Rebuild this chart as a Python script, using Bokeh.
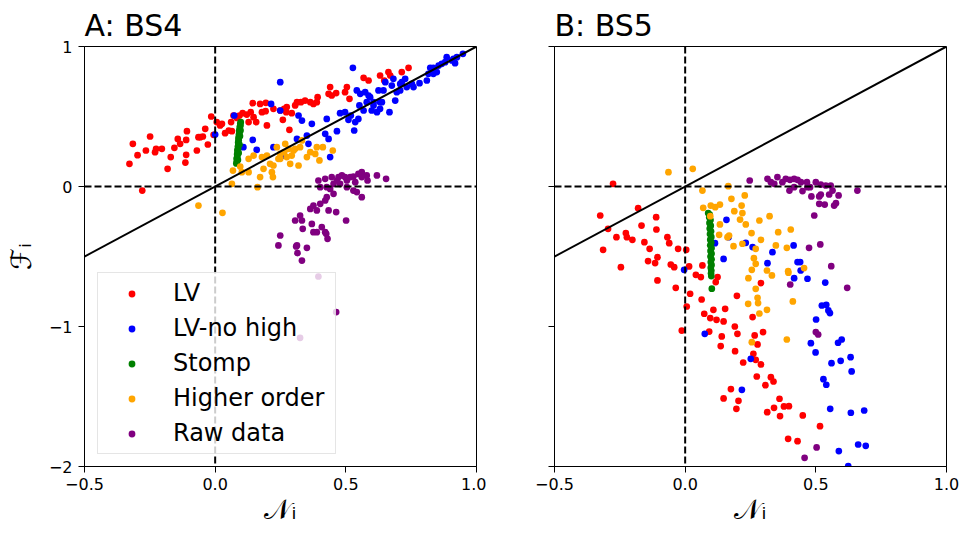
from bokeh.plotting import figure
from bokeh.models import Range1d, FixedTicker, Span, Slope, Legend, LegendItem
from bokeh.layouts import row
from bokeh.embed import file_html
from bokeh.resources import INLINE

# ---------------- data (N_i, F_i) ----------------
X_TICKS = [-0.5, 0.0, 0.5, 1.0]
X_TICK_LABELS = ["\u22120.5", "0.0", "0.5", "1.0"]
Y_TICKS = [-2, -1, 0, 1]
Y_TICK_LABELS = ["\u22122", "\u22121", "0", "1"]
X_LIM = (-0.5, 1.0)
Y_LIM = (-2.0, 1.0)

SERIES = ["LV", "LV-no high", "Stomp", "Higher order", "Raw data"]
COLORS = ["red", "blue", "green", "orange", "purple"]

A_LV = [(-0.328, 0.162), (-0.315, 0.305), (-0.297, 0.224), (-0.265, 0.257), (-0.249, 0.357),
        (-0.230, 0.245), (-0.226, 0.269), (-0.204, 0.269), (-0.182, 0.126), (-0.170, 0.210),
        (-0.156, 0.276), (-0.143, 0.340), (-0.134, 0.305), (-0.111, 0.333), (-0.111, 0.226),
        (-0.114, 0.171), (-0.108, 0.395), (-0.070, 0.257), (-0.064, 0.352), (-0.057, 0.352),
        (-0.047, 0.357), (-0.038, 0.412), (-0.028, 0.300), (-0.015, 0.500), (-0.006, 0.369),
        (0.006, 0.460), (0.019, 0.436), (0.026, 0.448), (0.038, 0.381), (0.052, 0.400),
        (0.064, 0.395), (0.061, 0.460), (0.070, 0.507), (0.083, 0.490), (0.093, 0.507),
        (0.105, 0.524), (0.121, 0.514), (0.128, 0.460), (0.136, 0.531), (0.144, 0.595),
        (0.147, 0.495), (0.157, 0.460), (0.172, 0.590), (0.179, 0.531), (0.193, 0.538),
        (0.194, 0.598), (0.198, 0.436), (0.223, 0.555), (0.249, 0.543), (0.259, 0.476),
        (0.264, 0.555), (0.274, 0.567), (0.272, 0.531), (0.284, 0.405), (0.293, 0.524),
        (0.306, 0.579), (0.313, 0.602), (0.328, 0.602), (0.344, 0.614), (0.364, 0.602),
        (0.376, 0.590), (0.392, 0.638), (0.389, 0.602), (0.434, 0.662), (0.446, 0.650),
        (0.440, 0.710), (0.463, 0.667), (0.497, 0.674), (0.504, 0.710), (0.514, 0.626),
        (0.568, 0.776), (0.587, 0.757), (0.631, 0.793), (0.647, 0.757), (0.663, 0.817),
        (0.670, 0.793), (0.714, 0.817), (0.740, 0.848), (-0.279, -0.029)]

A_NOHIGH = [(0.249, 0.745), (0.527, 0.848), (0.214, 0.590), (0.249, 0.543), (0.073, 0.507),
            (0.000, 0.371), (0.108, 0.281), (0.144, 0.333), (0.159, 0.262), (0.223, 0.281),
            (0.264, 0.221), (0.319, 0.507), (0.332, 0.471), (0.370, 0.448), (0.351, 0.364),
            (0.313, 0.340), (0.357, 0.305), (0.421, 0.376), (0.427, 0.483), (0.434, 0.340),
            (0.440, 0.210), (0.466, 0.395), (0.478, 0.524), (0.497, 0.531), (0.510, 0.476),
            (0.519, 0.507), (0.532, 0.400), (0.536, 0.460), (0.548, 0.483), (0.552, 0.579),
            (0.555, 0.662), (0.574, 0.674), (0.580, 0.602), (0.593, 0.638), (0.599, 0.543),
            (0.606, 0.579), (0.619, 0.531), (0.625, 0.686), (0.631, 0.555), (0.638, 0.602),
            (0.644, 0.686), (0.651, 0.745), (0.667, 0.531), (0.676, 0.721), (0.682, 0.769),
            (0.689, 0.614), (0.708, 0.733), (0.714, 0.745), (0.727, 0.769), (0.733, 0.710),
            (0.753, 0.733), (0.759, 0.710), (0.782, 0.738), (0.810, 0.757), (0.816, 0.805),
            (0.823, 0.848), (0.835, 0.848), (0.855, 0.864), (0.867, 0.876), (0.880, 0.888),
            (0.886, 0.924), (0.906, 0.900), (0.912, 0.912), (0.925, 0.924), (0.948, 0.948),
            (0.918, 0.881), (0.835, 0.805), (0.848, 0.817), (0.708, 0.686), (0.695, 0.674),
            (0.542, 0.686), (0.587, 0.650), (0.606, 0.602), (0.631, 0.602), (0.568, 0.543)]

A_STOMP = [(0.081, 0.165), (0.083, 0.180), (0.082, 0.200), (0.085, 0.215), (0.084, 0.230),
           (0.086, 0.245), (0.085, 0.260), (0.088, 0.270), (0.087, 0.285), (0.089, 0.300),
           (0.088, 0.315), (0.090, 0.330), (0.089, 0.345), (0.092, 0.355), (0.091, 0.370),
           (0.093, 0.385), (0.092, 0.400), (0.095, 0.410), (0.094, 0.425), (0.097, 0.435),
           (0.096, 0.450), (0.098, 0.460), (0.087, 0.190), (0.090, 0.240), (0.093, 0.300),
           (0.095, 0.360), (0.097, 0.400)]

A_HIGHER = [(-0.064, -0.136), (0.028, -0.188), (0.064, 0.019), (0.068, 0.114), (0.096, 0.143),
            (0.102, 0.102), (0.128, 0.198), (0.128, 0.102), (0.147, 0.221), (0.162, -0.005),
            (0.172, 0.067), (0.179, 0.210), (0.185, 0.126), (0.198, 0.221), (0.210, 0.162),
            (0.217, 0.102), (0.221, 0.067), (0.236, 0.281), (0.242, 0.198), (0.249, 0.233),
            (0.264, 0.245), (0.268, 0.305), (0.281, 0.269), (0.287, 0.162), (0.293, 0.221),
            (0.300, 0.257), (0.306, 0.269), (0.319, 0.150), (0.325, 0.281), (0.332, 0.329),
            (0.351, 0.210), (0.364, 0.245), (0.383, 0.233), (0.389, 0.281), (0.399, 0.186),
            (0.412, 0.281), (0.450, 0.257), (0.223, 0.150), (0.249, 0.198), (0.274, 0.210)]

A_RAW = [(0.395, 0.043), (0.402, -0.005), (0.421, 0.055), (0.427, -0.005), (0.446, 0.067),
         (0.453, 0.019), (0.466, 0.043), (0.472, 0.067), (0.485, 0.079), (0.497, 0.067),
         (0.504, 0.043), (0.517, 0.067), (0.529, 0.071), (0.536, 0.031), (0.548, 0.090),
         (0.561, 0.102), (0.561, 0.067), (0.580, 0.079), (0.583, 0.043), (0.619, 0.079),
         (0.654, 0.055), (0.529, -0.029), (0.542, -0.040), (0.561, -0.076), (0.504, -0.005),
         (0.427, -0.076), (0.421, -0.100), (0.402, -0.124), (0.376, -0.136), (0.389, -0.171),
         (0.364, -0.160), (0.434, -0.171), (0.463, -0.183), (0.325, -0.207), (0.332, -0.243),
         (0.306, -0.243), (0.370, -0.267), (0.408, -0.290), (0.421, -0.326), (0.376, -0.326),
         (0.389, -0.326), (0.430, -0.374), (0.335, -0.302), (0.249, -0.350), (0.242, -0.421),
         (0.313, -0.421), (0.351, -0.438), (0.315, -0.476), (0.332, -0.529), (0.501, -0.243),
         (0.478, 0.019), (0.453, -0.052), (0.440, -0.017), (0.310, -0.428), (0.425, -0.338),
         (0.463, -0.897), (0.395, -0.643), (0.325, -1.081)]

B_LV = [(-0.276, 0.019), (-0.325, -0.207), (-0.180, -0.155), (-0.111, -0.219), (-0.295, -0.302),
        (-0.314, -0.452), (-0.263, -0.362), (-0.227, -0.333), (-0.223, -0.362), (-0.202, -0.381),
        (-0.167, -0.279), (-0.156, -0.398), (-0.136, -0.445), (-0.110, -0.307), (-0.068, -0.362),
        (-0.061, -0.405), (-0.027, -0.445), (0.004, -0.452), (-0.246, -0.576), (-0.142, -0.533),
        (-0.106, -0.505), (-0.055, -0.557), (-0.042, -0.576), (0.015, -0.571), (0.066, -0.564),
        (-0.115, -0.547), (-0.106, -0.671), (-0.036, -0.724), (0.019, -0.766), (0.006, -0.857),
        (-0.013, -1.029), (0.041, -0.631), (0.060, -0.647), (0.063, -0.807), (0.073, -0.909),
        (0.096, -0.940), (0.108, -0.881), (0.120, -0.952), (0.117, -0.683), (0.124, -0.647),
        (0.092, -1.036), (0.140, -1.071), (0.136, -1.140), (0.147, -0.964), (0.153, -0.874),
        (0.198, -0.781), (0.190, -1.000), (0.200, -1.052), (0.191, -1.176), (0.222, -1.257),
        (0.258, -0.933), (0.261, -1.195), (0.266, -1.064), (0.277, -1.128), (0.270, -1.238),
        (0.290, -0.690), (0.290, -1.271), (0.298, -1.040), (0.274, -1.357), (0.307, -1.419),
        (0.328, -1.362), (0.338, -1.393), (0.175, -1.447), (0.147, -1.514), (0.204, -1.531),
        (0.196, -1.588), (0.361, -1.516), (0.314, -1.612), (0.340, -1.581), (0.363, -1.640),
        (0.378, -1.571), (0.397, -1.569), (0.450, -1.635), (0.516, -1.712), (0.394, -1.802),
        (0.430, -1.819)]

B_NOHIGH = [(0.158, -0.238), (0.147, -0.517), (0.114, -0.405), (0.166, -0.362), (0.232, -0.402),
            (0.258, -0.433), (0.334, -0.469), (0.315, -0.548), (0.415, -0.421), (0.430, -0.540),
            (0.440, -0.540), (-0.004, -0.595), (0.417, -0.655), (0.442, -0.600), (0.468, -0.659),
            (0.536, -0.686), (0.523, -0.850), (0.540, -0.845), (0.548, -0.885), (0.554, -0.904),
            (0.501, -0.950), (0.481, -1.119), (0.499, -1.185), (0.585, -1.116), (0.599, -1.093),
            (0.560, -1.262), (0.595, -1.245), (0.633, -1.219), (0.637, -1.321), (0.529, -1.376),
            (0.540, -1.416), (0.555, -1.588), (0.634, -1.616), (0.685, -1.600), (0.662, -1.843),
            (0.691, -1.852), (0.588, -1.890), (0.624, -1.997), (0.075, -1.052), (0.251, -1.231),
            (0.217, -1.452)]

B_STOMP = [(0.088, -0.19), (0.094, -0.20), (0.092, -0.22), (0.097, -0.24), (0.093, -0.26),
           (0.098, -0.28), (0.094, -0.30), (0.099, -0.32), (0.095, -0.34), (0.100, -0.36),
           (0.096, -0.38), (0.100, -0.40), (0.096, -0.42), (0.101, -0.44), (0.097, -0.46),
           (0.101, -0.48), (0.097, -0.50), (0.101, -0.52), (0.098, -0.54), (0.101, -0.56),
           (0.098, -0.58), (0.100, -0.60), (0.099, -0.62), (0.100, -0.64), (0.102, -0.73)]

B_HIGHER = [(-0.064, 0.102), (0.029, 0.126), (0.066, -0.029), (0.165, 0.002), (0.069, -0.152),
            (0.098, -0.136), (0.115, -0.148), (0.133, -0.129), (0.096, -0.212), (0.177, -0.088),
            (0.228, -0.064), (0.216, -0.136), (0.188, -0.176), (0.219, -0.190), (0.210, -0.236),
            (0.232, -0.271), (0.133, -0.271), (0.130, -0.345), (0.162, -0.362), (0.168, -0.350),
            (0.185, -0.426), (0.254, -0.333), (0.290, -0.381), (0.270, -0.445), (0.284, -0.243),
            (0.323, -0.212), (0.356, -0.326), (0.347, -0.421), (0.389, -0.438), (0.404, -0.307),
            (0.255, -0.595), (0.313, -0.600), (0.394, -0.605), (0.455, -0.583), (0.219, -0.409),
            (0.263, -0.512), (0.270, -0.552), (0.332, -0.635), (0.395, -0.616), (0.242, -0.655),
            (0.270, -0.731), (0.277, -0.795), (0.279, -0.833), (0.241, -0.838), (0.284, -0.907),
            (0.313, -0.881), (0.412, -0.821), (0.389, -1.093), (0.255, -1.112)]

B_RAW = [(0.247, 0.043), (0.315, 0.055), (0.328, 0.031), (0.353, 0.067), (0.372, 0.031),
         (0.385, 0.055), (0.401, 0.048), (0.417, 0.055), (0.430, 0.048), (0.443, 0.031),
         (0.399, -0.029), (0.449, -0.033), (0.466, 0.031), (0.478, -0.005), (0.500, 0.031),
         (0.519, 0.014), (0.538, 0.007), (0.557, 0.007), (0.564, -0.029), (0.551, -0.057),
         (0.587, -0.064), (0.483, -0.071), (0.513, -0.071), (0.519, -0.057), (0.513, -0.124),
         (0.534, -0.129), (0.570, -0.136), (0.577, -0.119), (0.659, -0.029), (0.494, -0.207),
         (0.517, -0.414), (0.474, -0.438), (0.559, -0.569), (0.341, 0.019), (0.417, -0.005),
         (0.468, -0.005), (0.402, -0.700), (0.620, -0.724), (0.500, -1.040), (0.509, -1.057),
         (0.503, -1.864), (0.457, -1.938)]

PANEL_A = [A_LV, A_NOHIGH, A_STOMP, A_HIGHER, A_RAW]
PANEL_B = [B_LV, B_NOHIGH, B_STOMP, B_HIGHER, B_RAW]

FONT = "DejaVu Sans"


def make_panel(title, data, show_ylabels, show_legend, border_left, border_right):
    p = figure(frame_width=392, frame_height=420,
               x_range=Range1d(*X_LIM), y_range=Range1d(*Y_LIM),
               output_backend="svg", toolbar_location=None,
               min_border_left=border_left, min_border_right=border_right,
               min_border_top=46, min_border_bottom=56,
               background_fill_color="white", border_fill_color="white")
    p.title.text = title
    p.title.text_font = FONT
    p.title.text_font_size = "30px"
    p.title.text_font_style = "normal"
    p.title.text_color = "black"
    p.title.align = "left"
    p.title.standoff = 7
    p.xgrid.visible = False
    p.ygrid.visible = False
    p.outline_line_color = "black"
    p.outline_line_width = 1
    p.outline_line_alpha = 1

    renderers = []
    for pts, color in zip(data, COLORS):
        xs = [a for a, b in pts]
        ys = [b for a, b in pts]
        r = p.scatter(xs, ys, size=6.7, fill_color=color, line_color=None)
        renderers.append(r)

    p.add_layout(Slope(gradient=1, y_intercept=0, line_color="black", line_width=2))
    for dim in ("height", "width"):
        p.add_layout(Span(location=0, dimension=dim, line_color="black",
                          line_width=2, line_dash="7 3"))

    for ax in (p.xaxis[0], p.yaxis[0]):
        ax.major_label_text_font = FONT
        ax.major_label_text_font_size = "16px"
        ax.major_label_text_color = "black"
        ax.axis_line_color = "black"
        ax.major_tick_line_color = "black"
        ax.major_tick_out = 6
        ax.major_tick_in = 0
        ax.minor_tick_out = 0
        ax.minor_tick_in = 0
        ax.axis_label_text_font = FONT
        ax.axis_label_text_font_style = "normal"
        ax.axis_label_text_font_size = "28px"
        ax.axis_label_text_color = "black"

    p.xaxis[0].ticker = FixedTicker(ticks=X_TICKS)
    p.xaxis[0].major_label_overrides = {t: l for t, l in zip(X_TICKS, X_TICK_LABELS)}
    p.xaxis[0].major_label_standoff = 5
    p.xaxis[0].axis_label = "\U0001D4A9\u1D62"
    p.xaxis[0].axis_label_standoff = 0

    p.yaxis[0].ticker = FixedTicker(ticks=Y_TICKS)
    if show_ylabels:
        p.yaxis[0].major_label_overrides = {t: l for t, l in zip(Y_TICKS, Y_TICK_LABELS)}
        p.yaxis[0].axis_label = "\u2131\u1D62"
        p.yaxis[0].axis_label_text_font_size = "28px"
        p.yaxis[0].axis_label_standoff = 8
    else:
        p.yaxis[0].major_label_overrides = {t: "" for t in Y_TICKS}
    p.yaxis[0].major_label_standoff = 6

    if show_legend:
        items = [LegendItem(label=s, renderers=[r]) for s, r in zip(SERIES, renderers)]
        leg = Legend(items=items, location=(13, 12), margin=0)
        leg.padding = 6
        leg.spacing = 7
        leg.glyph_width = 55
        leg.glyph_height = 17
        leg.label_standoff = 14
        leg.label_width = 156
        leg.label_text_font = FONT
        leg.label_text_font_size = "24px"
        leg.label_text_color = "black"
        leg.border_line_color = "#cccccc"
        leg.border_line_width = 1
        leg.background_fill_color = "white"
        leg.background_fill_alpha = 0.8
        p.add_layout(leg)
    return p


pA = make_panel("A: BS4", PANEL_A, True, True, 84, 10)
pB = make_panel("B: BS5", PANEL_B, False, False, 68, 14)

layout = row(pA, pB)
open("out.html", "w").write(file_html(layout, INLINE))
